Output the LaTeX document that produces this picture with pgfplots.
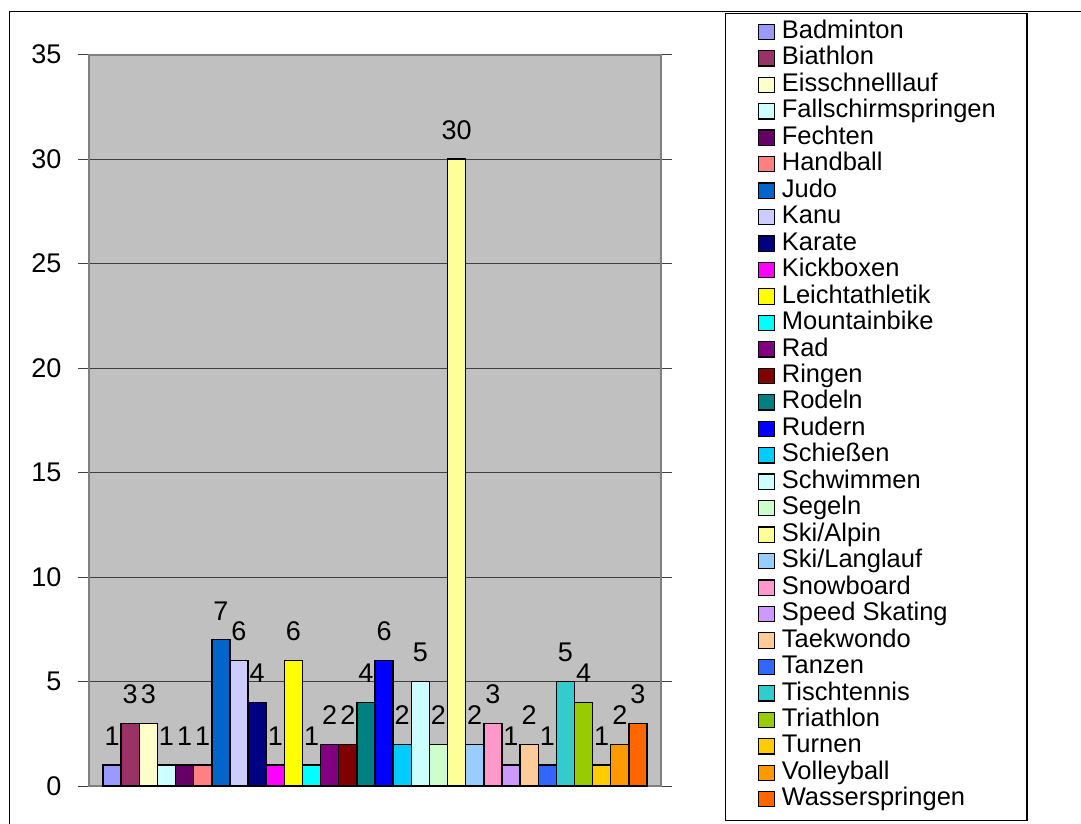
\documentclass[border=0pt]{standalone}
\usepackage{pgfplots}
\pgfplotsset{compat=1.18}
\usepackage{fontspec}
\setmainfont{Liberation Sans}
\definecolor{plotgray}{HTML}{C0C0C0}
\definecolor{bordergray}{HTML}{808080}
\definecolor{c1}{HTML}{9999FF}
\definecolor{c2}{HTML}{993366}
\definecolor{c3}{HTML}{FFFFCC}
\definecolor{c4}{HTML}{CCFFFF}
\definecolor{c5}{HTML}{660066}
\definecolor{c6}{HTML}{FF8080}
\definecolor{c7}{HTML}{0066CC}
\definecolor{c8}{HTML}{CCCCFF}
\definecolor{c9}{HTML}{000080}
\definecolor{c10}{HTML}{FF00FF}
\definecolor{c11}{HTML}{FFFF00}
\definecolor{c12}{HTML}{00FFFF}
\definecolor{c13}{HTML}{800080}
\definecolor{c14}{HTML}{800000}
\definecolor{c15}{HTML}{008080}
\definecolor{c16}{HTML}{0000FF}
\definecolor{c17}{HTML}{00CCFF}
\definecolor{c18}{HTML}{CCFFFF}
\definecolor{c19}{HTML}{CCFFCC}
\definecolor{c20}{HTML}{FFFF99}
\definecolor{c21}{HTML}{99CCFF}
\definecolor{c22}{HTML}{FF99CC}
\definecolor{c23}{HTML}{CC99FF}
\definecolor{c24}{HTML}{FFCC99}
\definecolor{c25}{HTML}{3366FF}
\definecolor{c26}{HTML}{33CCCC}
\definecolor{c27}{HTML}{99CC00}
\definecolor{c28}{HTML}{FFCC00}
\definecolor{c29}{HTML}{FF9900}
\definecolor{c30}{HTML}{FF6600}
\begin{document}
\begin{tikzpicture}[x=1pt,y=1pt]
\useasboundingbox (0,0) rectangle (1081,-823);
\clip (0,0) rectangle (1081,-823);
\draw[black, line width=1pt] (9,-11) rectangle (1100,-840);
\begin{axis}[
  at={(88.7pt,-786pt)}, anchor=south west,
  scale only axis, width=572.3pt, height=731.5pt,
  xmin=-1.289, xmax=30.272, ymin=0, ymax=35,
  ytick={0,5,...,35}, xtick=\empty,
  ymajorgrids, major grid style={black!75, line width=0.9pt},
  axis background/.style={fill=plotgray},
  axis line style={draw=bordergray, line width=2pt},
  tick align=outside, major tick length=10.7pt,
  tick style={black!75, line width=0.9pt},
  /pgf/number format/assume math mode=true,
  yticklabel style={font=\fontsize{27}{27}\selectfont, anchor=east, inner sep=0pt, xshift=-16.5pt},
  ybar, bar width=18.13pt,
  every axis plot post/.append style={bar shift=0pt, draw=black, line width=1.4pt},
  nodes near coords,
  nodes near coords style={font=\fontsize{27}{27}\selectfont, anchor=south, inner sep=0pt, yshift=19pt, text=black},
  legend cell align=left,
  legend style={at={(1.1685,1.04745)}, anchor=north west, draw=none, fill=none,
    inner sep=0pt, row sep=1.96pt, column sep=7pt,
    font=\fontsize{25.5}{25.5}\selectfont,
    nodes={inner sep=0pt, text height=18.5pt, text depth=6pt}},
  legend image code/.code={\draw[#1, line width=1.2pt] (0pt,-7.3pt) rectangle (16pt,8.0pt);},
]
\addplot[fill=c1] coordinates {(0,1)};
\addplot[fill=c2] coordinates {(1,3)};
\addplot[fill=c3] coordinates {(2,3)};
\addplot[fill=c4] coordinates {(3,1)};
\addplot[fill=c5] coordinates {(4,1)};
\addplot[fill=c6] coordinates {(5,1)};
\addplot[fill=c7] coordinates {(6,7)};
\addplot[fill=c8] coordinates {(7,6)};
\addplot[fill=c9] coordinates {(8,4)};
\addplot[fill=c10] coordinates {(9,1)};
\addplot[fill=c11] coordinates {(10,6)};
\addplot[fill=c12] coordinates {(11,1)};
\addplot[fill=c13] coordinates {(12,2)};
\addplot[fill=c14] coordinates {(13,2)};
\addplot[fill=c15] coordinates {(14,4)};
\addplot[fill=c16] coordinates {(15,6)};
\addplot[fill=c17] coordinates {(16,2)};
\addplot[fill=c18] coordinates {(17,5)};
\addplot[fill=c19] coordinates {(18,2)};
\addplot[fill=c20] coordinates {(19,30)};
\addplot[fill=c21] coordinates {(20,2)};
\addplot[fill=c22] coordinates {(21,3)};
\addplot[fill=c23] coordinates {(22,1)};
\addplot[fill=c24] coordinates {(23,2)};
\addplot[fill=c25] coordinates {(24,1)};
\addplot[fill=c26] coordinates {(25,5)};
\addplot[fill=c27] coordinates {(26,4)};
\addplot[fill=c28] coordinates {(27,1)};
\addplot[fill=c29] coordinates {(28,2)};
\addplot[fill=c30] coordinates {(29,3)};
\legend{Badminton,Biathlon,Eisschnelllauf,Fallschirmspringen,Fechten,Handball,Judo,Kanu,Karate,Kickboxen,Leichtathletik,Mountainbike,Rad,Ringen,Rodeln,Rudern,Schießen,Schwimmen,Segeln,Ski/Alpin,Ski/Langlauf,Snowboard,Speed Skating,Taekwondo,Tanzen,Tischtennis,Triathlon,Turnen,Volleyball,Wasserspringen}
\end{axis}
\draw[black, line width=1.2pt] (725.7,-13.3) rectangle (1027,-820.7);
\end{tikzpicture}
\end{document}
